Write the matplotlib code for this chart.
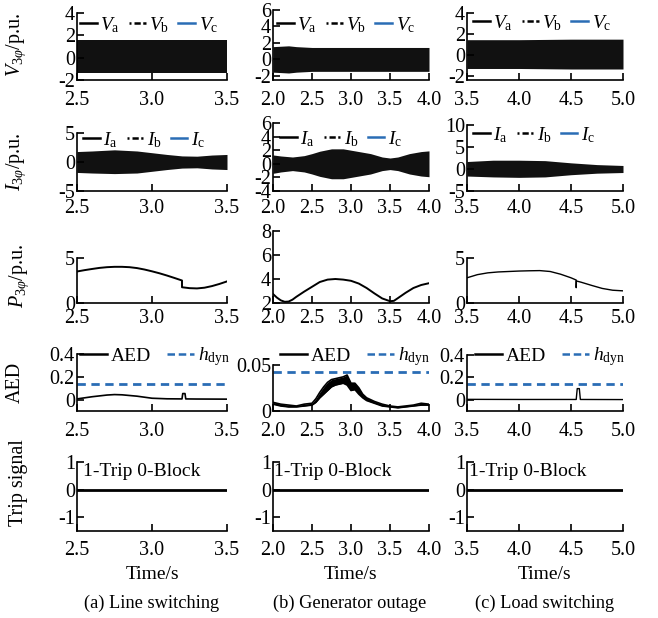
import numpy as np
import matplotlib
matplotlib.use("Agg")
import matplotlib.pyplot as plt

plt.rcParams['font.family'] = ['Liberation Serif', 'DejaVu Serif']
plt.rcParams['mathtext.fontset'] = 'custom'
plt.rcParams['mathtext.rm'] = 'Liberation Serif'
plt.rcParams['mathtext.it'] = 'Liberation Serif:italic'
plt.rcParams['axes.unicode_minus'] = True

FS = 14          # labels / legends
TFS = 14.5       # tick labels
CFS = 13.2       # captions
BLUE = '#2a6db5'

# ---------------- data ----------------
# three-phase voltage envelopes (p.u.)
v1_t = [2.5, 2.75, 3.0, 3.25, 3.5]
v1_up = [1.6, 1.6, 1.6, 1.6, 1.6]
v1_lo = [-1.4, -1.4, -1.4, -1.4, -1.4]
v2_t = [2.0, 2.2, 2.3, 2.5, 3.0, 3.5, 4.0]
v2_up = [1.55, 1.65, 1.55, 1.45, 1.45, 1.45, 1.45]
v2_lo = [-1.55, -1.65, -1.55, -1.45, -1.45, -1.45, -1.45]
v3_t = [3.5, 4.0, 4.5, 5.0]
v3_up = [1.45, 1.45, 1.5, 1.5]
v3_lo = [-1.3, -1.3, -1.35, -1.35]

# three-phase current envelopes (p.u.)
i1_t = [2.5, 2.6, 2.75, 2.9, 3.0, 3.1, 3.2, 3.3, 3.4, 3.5]
i1_up = [1.8, 1.9, 2.1, 1.9, 1.6, 1.3, 1.05, 1.0, 1.2, 1.3]
i1_lo = [-1.8, -1.9, -2.0, -1.9, -1.6, -1.3, -1.05, -1.0, -1.2, -1.3]
i2_t = [2.0, 2.1, 2.25, 2.4, 2.5, 2.6, 2.75, 2.9, 3.0, 3.1, 3.25, 3.4, 3.5, 3.6, 3.75, 3.9, 4.0]
i2_up = [1.3, 1.15, 1.0, 1.2, 1.5, 1.85, 2.2, 2.2, 2.0, 1.8, 1.5, 1.0, 0.85, 1.0, 1.5, 1.8, 1.9]
i2_lo = [-1.4, -1.2, -1.0, -1.2, -1.5, -1.85, -2.2, -2.2, -2.0, -1.8, -1.5, -1.0, -0.85, -1.0, -1.5, -1.8, -1.9]
i3_t = [3.5, 3.75, 4.0, 4.25, 4.4, 4.5, 4.75, 5.0]
i3_up = [1.7, 2.0, 2.0, 1.9, 1.6, 1.4, 1.0, 0.8]
i3_lo = [-1.6, -1.8, -1.9, -1.8, -1.5, -1.3, -0.95, -0.8]

# three-phase power (p.u.)
p1_t = [2.50, 2.55, 2.60, 2.65, 2.70, 2.75, 2.80, 2.85, 2.90, 2.95, 3.00, 3.05,
        3.10, 3.15, 3.20, 3.20, 3.25, 3.30, 3.35, 3.40, 3.45, 3.50]
p1_v = [3.50, 3.65, 3.78, 3.90, 3.98, 4.02, 4.02, 3.98, 3.88, 3.72, 3.52, 3.30,
        3.05, 2.78, 2.50, 1.75, 1.65, 1.62, 1.70, 1.88, 2.12, 2.40]
p2_t = [2.00, 2.05, 2.10, 2.15, 2.20, 2.25, 2.30, 2.40, 2.50, 2.60, 2.70, 2.80,
        2.90, 3.00, 3.10, 3.20, 3.30, 3.40, 3.50, 3.55, 3.60, 3.70, 3.80, 3.90, 4.00]
p2_v = [2.75, 2.45, 2.22, 2.10, 2.12, 2.28, 2.52, 2.95, 3.35, 3.75, 3.95, 4.00,
        3.95, 3.85, 3.62, 3.25, 2.80, 2.38, 2.15, 2.18, 2.40, 2.85, 3.25, 3.50, 3.65]
p3_t = [3.50, 3.60, 3.70, 3.80, 3.90, 4.00, 4.10, 4.20, 4.30, 4.40, 4.50, 4.55,
        4.55, 4.552, 4.60, 4.70, 4.80, 4.90, 5.00]
p3_v = [2.80, 3.15, 3.35, 3.45, 3.50, 3.55, 3.58, 3.60, 3.50, 3.20, 2.80, 2.55,
        1.70, 2.45, 2.30, 1.95, 1.62, 1.42, 1.35]

# AED
a1_t = [2.50, 2.60, 2.70, 2.75, 2.80, 2.90, 3.00, 3.10, 3.20, 3.205, 3.22, 3.225, 3.30, 3.50]
a1_v = [0.006, 0.025, 0.040, 0.044, 0.042, 0.030, 0.012, 0.007, 0.006, 0.053, 0.053, 0.006, 0.005, 0.004]
a2_t = [2.0, 2.1, 2.2, 2.3, 2.4, 2.5, 2.55, 2.6, 2.65, 2.7, 2.75, 2.8, 2.85, 2.9, 2.95,
        3.0, 3.05, 3.1, 3.15, 3.2, 3.3, 3.4, 3.5, 3.6, 3.7, 3.8, 3.9, 4.0]
a2_up = [0.009, 0.007, 0.006, 0.005, 0.007, 0.008, 0.013, 0.020, 0.026, 0.031, 0.034, 0.035,
         0.036, 0.037, 0.039, 0.030, 0.030, 0.025, 0.018, 0.014, 0.010, 0.007, 0.005, 0.004,
         0.005, 0.006, 0.008, 0.007]
a2_lo = [0.007, 0.005, 0.004, 0.004, 0.005, 0.006, 0.009, 0.014, 0.018, 0.022, 0.026, 0.028,
         0.029, 0.030, 0.028, 0.022, 0.023, 0.018, 0.014, 0.011, 0.008, 0.005, 0.004, 0.003,
         0.004, 0.005, 0.006, 0.006]
a3_t = [3.50, 4.00, 4.55, 4.56, 4.58, 4.59, 5.00]
a3_v = [0.004, 0.003, 0.003, 0.100, 0.100, 0.003, 0.002]
h_dyn = [0.14, 0.042, 0.145]

# trip signal
trip_t = [[2.5, 3.5], [2.0, 4.0], [3.5, 5.0]]
trip_v = [0, 0]

xlims = [(2.5, 3.5), (2.0, 4.0), (3.5, 5.0)]
xticks = [[2.5, 3.0, 3.5], [2.0, 2.5, 3.0, 3.5, 4.0], [3.5, 4.0, 4.5, 5.0]]
captions = ['(a) Line switching', '(b) Generator outage', '(c) Load switching']

# ---------------- layout ----------------
W, H = 658, 618
fig = plt.figure(figsize=(W / 100, H / 100), dpi=100)

def ax_at(x0, y0, x1, y1):
    return fig.add_axes([x0 / W, 1 - y1 / H, (x1 - x0) / W, (y1 - y0) / H])

cols_x = [(77, 227), (273, 429), (467, 623)]
rows_y = [
    [(13, 80), (10, 80), (13, 80)],
    [(133, 191), (123, 191), (125, 191)],
    [(258, 303), (231, 303), (258, 303)],
    [(354, 411), (365, 411), (355, 411)],
    [(462, 531), (462, 531), (462, 531)],
]
xpad = [8.0, 5.5, 4.5, 8.0, 7.5]

def style(ax, c, r, yt, ylim):
    ax.set_xlim(*xlims[c])
    ax.set_xticks(xticks[c])
    ax.xaxis.set_major_formatter(matplotlib.ticker.FormatStrFormatter('%.1f'))
    ax.set_ylim(*ylim)
    ax.set_yticks(yt)
    ax.yaxis.set_major_formatter(matplotlib.ticker.FormatStrFormatter('%g'))
    for s in ['top', 'right']:
        ax.spines[s].set_visible(False)
    for s in ['left', 'bottom']:
        ax.spines[s].set_linewidth(1.2)
    ax.tick_params(direction='in', length=5, width=1.2, labelsize=TFS)
    ax.tick_params(axis='y', pad=1.5)
    ax.tick_params(axis='x', pad=xpad[r])
    ax.patch.set_alpha(0)

vt = [v1_t, v2_t, v3_t]; vu = [v1_up, v2_up, v3_up]; vl = [v1_lo, v2_lo, v3_lo]
it = [i1_t, i2_t, i3_t]; iu = [i1_up, i2_up, i3_up]; il = [i1_lo, i2_lo, i3_lo]
pt = [p1_t, p2_t, p3_t]; pv = [p1_v, p2_v, p3_v]

dashdot = (0, (0.8, 1.2, 2.5, 1.0, 2.5, 1.0))
leg_kw = dict(frameon=False, ncol=3, fontsize=FS, handlelength=0.85, handletextpad=0.2,
              columnspacing=0.45, borderpad=0, borderaxespad=0, loc='center left',
              bbox_transform=fig.transFigure)

v_leg_pos = [(80, 25), (277, 25), (473, 23)]
i_leg_pos = [(83, 140), (280, 139), (473, 135)]
a_leg_pos = [(80, 357), (280, 357), (475, 357)]
trip_pos = [(83, 472), (274, 472), (469, 472)]

v_ylim = [(-2, 4), (-2.5, 6), (-2.4, 4)]
v_yt = [[-2, 0, 2, 4], [-2, 0, 2, 4, 6], [-2, 0, 2, 4]]
i_ylim = [(-5, 5), (-4, 6), (-5, 10)]
i_yt = [[-5, 0, 5], [-4, -2, 0, 2, 4, 6], [-5, 0, 5, 10]]
p_ylim = [(0, 5), (2, 8), (0, 5)]
p_yt = [[0, 5], [2, 4, 6, 8], [0, 5]]
a_ylim = [(-0.1, 0.4), (-0.0005, 0.05), (-0.1, 0.4)]
a_yt = [[0, 0.2, 0.4], [0, 0.05], [0, 0.2, 0.4]]

for c in range(3):
    x0, x1 = cols_x[c]
    # row 1 voltage
    ax = ax_at(x0, rows_y[0][c][0], x1, rows_y[0][c][1])
    style(ax, c, 0, v_yt[c], v_ylim[c])
    ax.fill_between(vt[c], vl[c], vu[c], color='#111111', lw=0)
    h1, = ax.plot([], [], color='black', lw=1.8)
    h2, = ax.plot([], [], color='black', lw=1.8, ls=dashdot)
    h3, = ax.plot([], [], color=BLUE, lw=1.8)
    ax.legend([h1, h2, h3], [r'$V_{\mathrm{a}}$', r'$V_{\mathrm{b}}$', r'$V_{\mathrm{c}}$'],
              bbox_to_anchor=(v_leg_pos[c][0] / W, 1 - v_leg_pos[c][1] / H), **leg_kw)
    if c == 0:
        ax.set_ylabel(r'$V_{3\varphi}$/p.u.', fontsize=TFS)
        ax.yaxis.set_label_coords(28 / W, 1 - 45 / H, transform=fig.transFigure)

    # row 2 current
    ax = ax_at(x0, rows_y[1][c][0], x1, rows_y[1][c][1])
    style(ax, c, 1, i_yt[c], i_ylim[c])
    ax.fill_between(it[c], il[c], iu[c], color='#111111', lw=0)
    h1, = ax.plot([], [], color='black', lw=1.8)
    h2, = ax.plot([], [], color='black', lw=1.8, ls=dashdot)
    h3, = ax.plot([], [], color=BLUE, lw=1.8)
    ax.legend([h1, h2, h3], [r'$I_{\mathrm{a}}$', r'$I_{\mathrm{b}}$', r'$I_{\mathrm{c}}$'],
              bbox_to_anchor=(i_leg_pos[c][0] / W, 1 - i_leg_pos[c][1] / H), **leg_kw)
    if c == 0:
        ax.set_ylabel(r'$I_{3\varphi}$/p.u.', fontsize=TFS)
        ax.yaxis.set_label_coords(28 / W, 1 - 162 / H, transform=fig.transFigure)

    # row 3 power
    ax = ax_at(x0, rows_y[2][c][0], x1, rows_y[2][c][1])
    style(ax, c, 2, p_yt[c], p_ylim[c])
    ax.plot(pt[c], pv[c], color='black', lw=1.4 if c < 2 else 1.0)
    if c == 0:
        ax.set_ylabel(r'$P_{3\varphi}$/p.u.', fontsize=TFS)
        ax.yaxis.set_label_coords(31 / W, 1 - 276 / H, transform=fig.transFigure)

    # row 4 AED
    ax = ax_at(x0, rows_y[3][c][0], x1, rows_y[3][c][1])
    style(ax, c, 3, a_yt[c], a_ylim[c])
    if c == 0:
        ax.plot(a1_t, a1_v, color='black', lw=1.2)
    elif c == 1:
        ax.fill_between(a2_t, a2_lo, a2_up, color='black', lw=0)
        ax.plot(a2_t, a2_up, color='black', lw=1.2)
        ax.plot(a2_t, a2_lo, color='black', lw=1.2)
    else:
        ax.plot(a3_t, a3_v, color='black', lw=1.0)
    ax.axhline(h_dyn[c], color=BLUE, lw=2.0, dashes=(3, 2))
    h1, = ax.plot([], [], color='black', lw=1.8)
    h2, = ax.plot([], [], color=BLUE, lw=1.8, dashes=(3, 1.5))
    ax.legend([h1, h2], ['AED', r'$h_{\mathrm{dyn}}$'],
              bbox_to_anchor=(a_leg_pos[c][0] / W, 1 - a_leg_pos[c][1] / H),
              **dict(leg_kw, ncol=2, handlelength=1.4, columnspacing=0.8))
    if c == 0:
        ax.set_ylabel('AED', fontsize=TFS)
        ax.yaxis.set_label_coords(25 / W, 1 - 382 / H, transform=fig.transFigure)

    # row 5 trip signal
    ax = ax_at(x0, rows_y[4][c][0], x1, rows_y[4][c][1])
    style(ax, c, 4, [-1, 0, 1], (-1.5, 1))
    ax.plot(trip_t[c], trip_v, color='black', lw=2.0)
    fig.text(trip_pos[c][0] / W, 1 - trip_pos[c][1] / H, '1-Trip 0-Block',
             fontsize=FS, va='center', ha='left')
    ax.set_xlabel('Time/s', fontsize=FS, labelpad=4)
    if c == 0:
        ax.set_ylabel('Trip signal', fontsize=TFS)
        ax.yaxis.set_label_coords(28 / W, 1 - 483 / H, transform=fig.transFigure)

cap_x = [152, 350, 545]
for c in range(3):
    fig.text(cap_x[c] / W, 1 - 603 / H, captions[c], fontsize=CFS, ha='center', va='center')

fig.savefig('out.png', dpi=100)
